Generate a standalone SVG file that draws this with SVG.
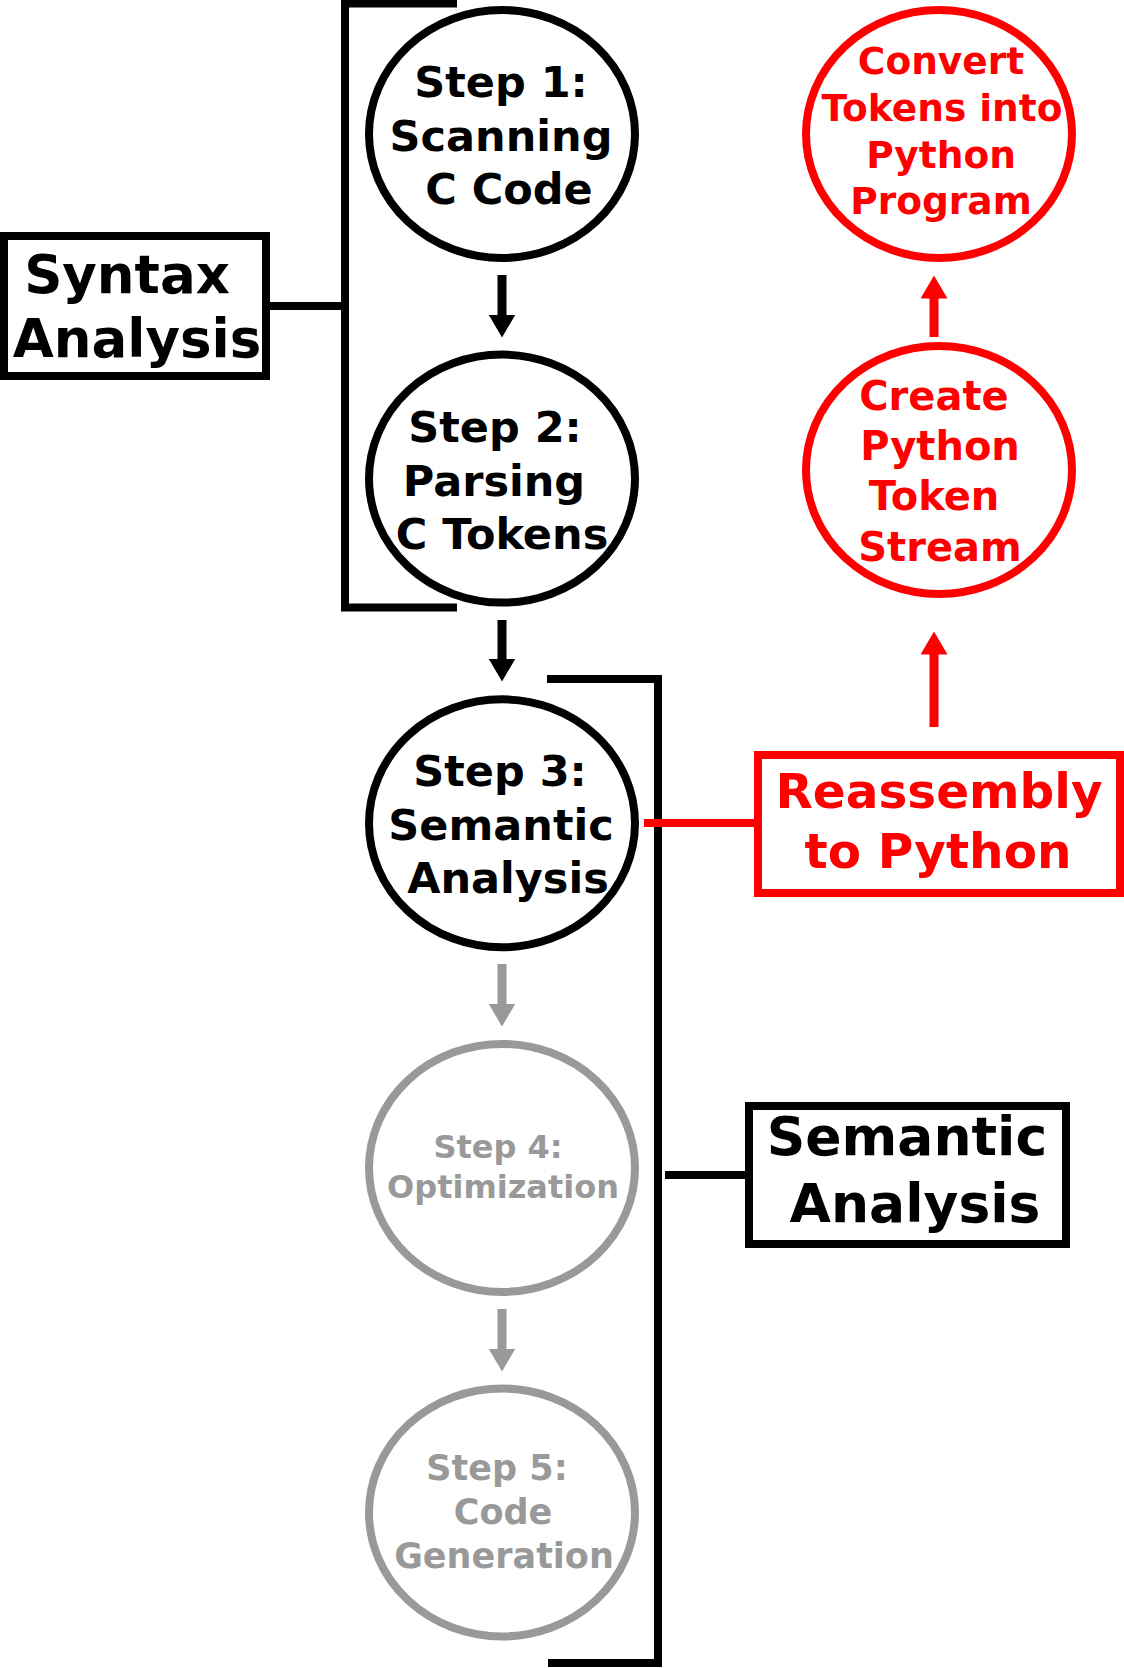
<svg xmlns="http://www.w3.org/2000/svg" width="1124" height="1668" viewBox="0 0 1124 1668">
<style>
text{font-family:"DejaVu Sans","Liberation Sans",sans-serif;font-weight:bold;text-anchor:middle}
.blk{fill:none;stroke:#000;stroke-width:8}
.red{fill:none;stroke:#ff0000;stroke-width:8}
.gry{fill:none;stroke:#999999;stroke-width:8}
.tb{fill:#000}
.tr{fill:#ff0000}
.tg{fill:#999999}
.shaft{stroke-width:9;fill:none}
</style>
<defs>
<marker id="ahb" viewBox="0 0 23 27" refX="0.5" refY="13.5" markerWidth="23" markerHeight="27" markerUnits="userSpaceOnUse" orient="auto"><path d="M0,0 L23,13.5 L0,27 Z" fill="#000"/></marker>
<marker id="ahg" viewBox="0 0 23 27" refX="0.5" refY="13.5" markerWidth="23" markerHeight="27" markerUnits="userSpaceOnUse" orient="auto"><path d="M0,0 L23,13.5 L0,27 Z" fill="#999999"/></marker>
<marker id="ahr" viewBox="0 0 23 27" refX="0.5" refY="13.5" markerWidth="23" markerHeight="27" markerUnits="userSpaceOnUse" orient="auto"><path d="M0,0 L23,13.5 L0,27 Z" fill="#ff0000"/></marker>
</defs>
<g id="connectors">
<path class="blk" d="M457,3.5 H345 V607.5 H457"/>
<line class="blk" x1="266" y1="306" x2="345" y2="306"/>
<path class="blk" d="M547,679 H658 V1663 H548"/>
<line class="blk" x1="665" y1="1175" x2="749" y2="1175"/>
<line class="red" x1="644" y1="823" x2="758" y2="823"/>
<line class="shaft" stroke="#000" x1="502" y1="275" x2="502" y2="315" marker-end="url(#ahb)"/>
<line class="shaft" stroke="#000" x1="502" y1="620" x2="502" y2="659" marker-end="url(#ahb)"/>
<line class="shaft" stroke="#999999" x1="502" y1="964" x2="502" y2="1004" marker-end="url(#ahg)"/>
<line class="shaft" stroke="#999999" x1="502" y1="1309" x2="502" y2="1349" marker-end="url(#ahg)"/>
<line class="shaft" stroke="#ff0000" x1="934" y1="337" x2="934" y2="298" marker-end="url(#ahr)"/>
<line class="shaft" stroke="#ff0000" x1="934" y1="727" x2="934" y2="654" marker-end="url(#ahr)"/>
</g>
<g id="syntax-analysis">
<rect class="blk" x="4" y="236" width="262" height="140"/>
<text class="tb" font-size="53" x="127" y="293">Syntax</text>
<text class="tb" font-size="53" x="137" y="357">Analysis</text>
</g>
<g id="step1">
<ellipse class="blk" cx="502" cy="134" rx="133" ry="124"/>
<text class="tb" font-size="43" x="501" y="97">Step 1:</text>
<text class="tb" font-size="43" x="501" y="151">Scanning</text>
<text class="tb" font-size="43" x="509" y="204">C Code</text>
</g>
<g id="step2">
<ellipse class="blk" cx="502" cy="478.6" rx="133" ry="124"/>
<text class="tb" font-size="43" x="495" y="442">Step 2:</text>
<text class="tb" font-size="43" x="494" y="496">Parsing</text>
<text class="tb" font-size="43" x="502" y="549">C Tokens</text>
</g>
<g id="step3">
<ellipse class="blk" cx="502" cy="823.3" rx="133" ry="124"/>
<text class="tb" font-size="43" x="500" y="786">Step 3:</text>
<text class="tb" font-size="43" x="501" y="840">Semantic</text>
<text class="tb" font-size="43" x="508" y="893">Analysis</text>
</g>
<g id="step4">
<ellipse class="gry" cx="502" cy="1167.9" rx="133" ry="124"/>
<text class="tg" font-size="32" x="498" y="1158">Step 4:</text>
<text class="tg" font-size="32" x="503" y="1198">Optimization</text>
</g>
<g id="step5">
<ellipse class="gry" cx="502" cy="1512.5" rx="133" ry="124"/>
<text class="tg" font-size="35" x="497" y="1480">Step 5:</text>
<text class="tg" font-size="35" x="503" y="1524">Code</text>
<text class="tg" font-size="35" x="504" y="1568">Generation</text>
</g>
<g id="semantic-analysis">
<rect class="blk" x="749" y="1106" width="317" height="138"/>
<text class="tb" font-size="53.5" x="907" y="1155">Semantic</text>
<text class="tb" font-size="53.5" x="915" y="1222">Analysis</text>
</g>
<g id="reassembly">
<rect class="red" x="758" y="755" width="362" height="138"/>
<text class="tr" font-size="48.5" x="939" y="808">Reassembly</text>
<text class="tr" font-size="48.5" x="938" y="868">to Python</text>
</g>
<g id="create-token-stream">
<ellipse class="red" cx="939" cy="470" rx="133" ry="124"/>
<text class="tr" font-size="40" x="934" y="410">Create</text>
<text class="tr" font-size="40" x="940" y="460">Python</text>
<text class="tr" font-size="40" x="934" y="510">Token</text>
<text class="tr" font-size="40" x="940" y="561">Stream</text>
</g>
<g id="convert-tokens">
<ellipse class="red" cx="939" cy="134" rx="133" ry="124"/>
<text class="tr" font-size="37.5" x="941" y="74">Convert</text>
<text class="tr" font-size="37.5" x="942" y="121">Tokens into</text>
<text class="tr" font-size="37.5" x="941" y="168">Python</text>
<text class="tr" font-size="37.5" x="941" y="214">Program</text>
</g>
</svg>
